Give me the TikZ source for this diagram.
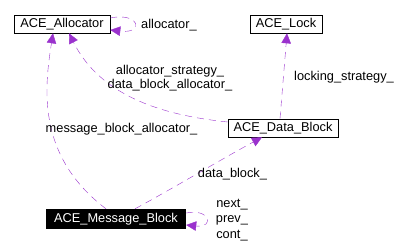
\documentclass[tikz,border=0pt]{standalone}
\usepackage{fontspec}
\setmainfont{Liberation Sans}
\usetikzlibrary{arrows.meta}
\definecolor{edgepurple}{RGB}{154,50,205}
\tikzset{
  classbox/.style={draw, semithick, minimum height=18pt, inner sep=0pt},
  rootbox/.style={fill=black, text=white, minimum height=20pt, inner sep=0pt},
  member/.style={edgepurple, dash pattern=on 7pt off 5pt,
    -{Triangle[length=10pt,width=9.5pt]}},
  lbl/.style={inner sep=0pt, align=center}
}
\begin{document}
\begin{tikzpicture}[x=1pt, y=-1pt, font=\fontsize{12.8}{14.5}\selectfont]
      \useasboundingbox (0,0) rectangle (413,243);
      % classes
      \node[classbox, minimum width=96pt] (alloc) at (62,24) {ACE\_Allocator};
      \node[classbox, minimum width=72pt] (lock) at (286,24) {ACE\_Lock};
      \node[classbox, minimum width=110pt] (data) at (283,128) {ACE\_Data\_Block};
      \node[rootbox, minimum width=140pt] (msg) at (116,219) {ACE\_Message\_Block};
      % member links
      \draw[member] ([yshift=6pt]alloc.east) .. controls (140,12) and (145,34) .. ([yshift=-6pt]alloc.east);
      \draw[member] ([xshift=-10pt]msg.north) .. controls (35,155) and (45,85) .. ([xshift=-9pt]alloc.south);
      \draw[member] ([yshift=6pt]data.west) .. controls (160,115) and (100,95) .. ([xshift=7pt]alloc.south);
      \draw[member] ([xshift=-3pt]data.north) -- ([xshift=1pt]lock.south);
      \draw[member] ([xshift=19pt]msg.north) .. controls (170,190) and (220,160) .. ([xshift=-21pt]data.south);
      \draw[member] ([yshift=6pt]msg.east) .. controls (210,208) and (215,228) .. ([yshift=-6pt]msg.east);
      % labels
      \node[lbl, anchor=west] (lalloc) at (141,25) {allocator\_};
      \node[lbl] (lstrat) at (170,78) {allocator\_strategy\_\\data\_block\_allocator\_};
      \node[lbl] (llock) at (344,77) {locking\_strategy\_};
      \node[lbl] (lmsgalloc) at (121.5,129) {message\_block\_allocator\_};
      \node[lbl] (ldata) at (232.5,174) {data\_block\_};
      \node[lbl, font=\fontsize{12.8}{15.5}\selectfont] (lnext) at (232,220) {next\_\\prev\_\\cont\_};
    \end{tikzpicture}
\end{document}
